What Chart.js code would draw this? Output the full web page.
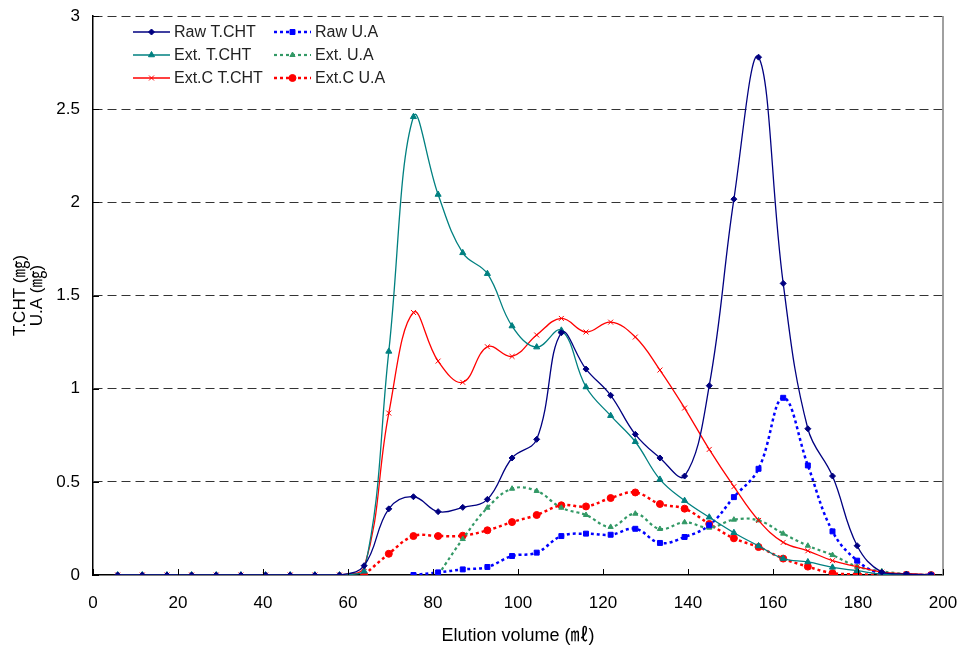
<!DOCTYPE html>
<html>
<head>
<meta charset="utf-8">
<script src="https://cdn.jsdelivr.net/npm/chart.js@4/dist/chart.umd.min.js"></script>
<style>
  html, body { margin: 0; padding: 0; background: #fff; }
  #wrap { width: 962px; height: 647px; }
</style>
</head>
<body>
<div id="wrap"><canvas id="c" width="962" height="647"></canvas></div>
<script>
// Fraction elution volumes (ml)
const volumes = [5.8, 11.6, 17.4, 23.2, 29.0, 34.8, 40.6, 46.4, 52.2, 58.0,
  63.8, 69.6, 75.4, 81.2, 87.0, 92.8, 98.6, 104.4, 110.2, 116.0,
  121.8, 127.6, 133.4, 139.2, 145.0, 150.8, 156.6, 162.4, 168.2, 174.0,
  179.8, 185.6, 191.4, 197.2];

// Total carbohydrate (mg) per fraction
const rawTCHT = [0, 0, 0, 0, 0, 0, 0, 0, 0, 0,
  0.05, 0.355, 0.42, 0.34, 0.363, 0.406, 0.628, 0.728, 1.30, 1.105,
  0.964, 0.755, 0.628, 0.531, 1.016, 2.017, 2.779, 1.565, 0.785, 0.531,
  0.157, 0.015, 0.005, 0];
const extTCHT = [0, 0, 0, 0, 0, 0, 0, 0, 0, 0,
  0.02, 1.20, 2.459, 2.042, 1.729, 1.617, 1.336, 1.223, 1.313, 1.009,
  0.855, 0.715, 0.513, 0.399, 0.31, 0.227, 0.156, 0.088, 0.07, 0.041,
  0.023, 0.005, 0.002, 0];
const extCTCHT = [0, 0, 0, 0, 0, 0, 0, 0, 0, 0,
  0.04, 0.869, 1.409, 1.148, 1.034, 1.225, 1.173, 1.288, 1.377, 1.304,
  1.357, 1.277, 1.10, 0.896, 0.674, 0.474, 0.293, 0.175, 0.13, 0.077,
  0.045, 0.015, 0.007, 0.002];

// Uronic acid (mg) per fraction
const rawUA = [null, null, null, null, null, null, null, null, null, null,
  null, null, 0, 0.014, 0.03, 0.043, 0.102, 0.12, 0.209, 0.222,
  0.216, 0.248, 0.172, 0.204, 0.267, 0.418, 0.57, 0.951, 0.588, 0.234,
  0.077, 0.005, 0, 0];
const extUA = [null, null, null, null, null, null, null, null, null, null,
  null, null, null, 0, 0.193, 0.361, 0.463, 0.451, 0.361, 0.322,
  0.258, 0.329, 0.247, 0.283, 0.254, 0.297, 0.293, 0.222, 0.157, 0.107,
  0.045, 0.02, 0.005, 0];
const extCUA = [null, null, null, null, null, null, null, null, null, null,
  0, 0.114, 0.209, 0.209, 0.211, 0.24, 0.284, 0.322, 0.374, 0.368,
  0.413, 0.443, 0.381, 0.356, 0.274, 0.197, 0.15, 0.088, 0.045, 0.01,
  0.004, 0, 0, 0];

const xTicks = [0, 20, 40, 60, 80, 100, 120, 140, 160, 180, 200];
const yTicks = [0, 0.5, 1, 1.5, 2, 2.5, 3];

const FONT = '"Liberation Sans", Arial, "Noto Sans CJK KR", sans-serif';

function pts(values) {
  return volumes.map((v, i) => ({ x: v, y: values[i] }));
}

function series(label, values, color, style, radius, dotted, width) {
  return {
    label: label,
    data: pts(values),
    borderColor: color,
    backgroundColor: color,
    pointBackgroundColor: color,
    pointBorderColor: color,
    pointStyle: style,
    pointRadius: radius,
    pointBorderWidth: 1,
    borderWidth: width,
    borderDash: dotted ? [3, 3] : [],
    tension: 0.4,
    spanGaps: false,
    fill: false
  };
}

const datasets = [
  series('Raw T.CHT', rawTCHT, '#000080', 'rectRot', 3, false, 1.3),
  series('Ext. T.CHT', extTCHT, '#008080', 'triangle', 3.5, false, 1.3),
  series('Ext.C T.CHT', extCTCHT, '#ff0000', 'crossRot', 3.5, false, 1.3),
  series('Raw U.A', rawUA, '#0000ff', 'rect', 3.5, true, 2.5),
  series('Ext. U.A', extUA, '#339966', 'triangle', 3, true, 2.2),
  series('Ext.C U.A', extCUA, '#ff0000', 'circle', 3.5, true, 2.5)
];

// Frame, inward tick marks and the two-column legend
const framePlugin = {
  id: 'frame',
  afterDraw(chart) {
    const ctx = chart.ctx;
    const a = chart.chartArea;
    const xs = chart.scales.x, ys = chart.scales.y;
    ctx.save();
    // right border
    ctx.strokeStyle = '#808080';
    ctx.lineWidth = 1.5;
    ctx.beginPath();
    ctx.moveTo(a.right, a.top);
    ctx.lineTo(a.right, a.bottom);
    ctx.stroke();
    // inward ticks
    ctx.strokeStyle = '#000';
    ctx.lineWidth = 1;
    xs.ticks.forEach(t => {
      const px = Math.round(xs.getPixelForValue(t.value)) + 0.5;
      ctx.beginPath();
      ctx.moveTo(px, a.bottom);
      ctx.lineTo(px, a.bottom - 6);
      ctx.stroke();
    });
    ys.ticks.forEach(t => {
      const py = Math.round(ys.getPixelForValue(t.value)) + 0.5;
      ctx.beginPath();
      ctx.moveTo(a.left, py);
      ctx.lineTo(a.left + 6, py);
      ctx.stroke();
    });
    // legend
    const colX = [133, 274];
    const rowY = [32, 55, 78];
    ctx.font = '16px "Liberation Sans Narrow", "Liberation Sans", Arial, sans-serif';
    ctx.textBaseline = 'middle';
    ctx.textAlign = 'left';
    chart.data.datasets.forEach((ds, i) => {
      const x0 = colX[Math.floor(i / 3)];
      const y0 = rowY[i % 3];
      ctx.strokeStyle = ds.borderColor;
      ctx.lineWidth = ds.borderWidth;
      ctx.setLineDash(ds.borderDash);
      ctx.beginPath();
      ctx.moveTo(x0, y0);
      ctx.lineTo(x0 + 37, y0);
      ctx.stroke();
      ctx.setLineDash([]);
      ctx.fillStyle = ds.pointBackgroundColor;
      ctx.lineWidth = 1;
      if (Chart.helpers && Chart.helpers.drawPoint) {
        Chart.helpers.drawPoint(ctx, {
          pointStyle: ds.pointStyle, radius: ds.pointRadius, rotation: 0,
          borderWidth: 1
        }, x0 + 18.5, y0);
      }
      ctx.fillStyle = '#222';
      ctx.fillText(ds.label, x0 + 41, y0 + 1);
    });
    ctx.restore();
  }
};

new Chart(document.getElementById('c'), {
  type: 'line',
  data: { datasets: datasets },
  plugins: [framePlugin],
  options: {
    responsive: false,
    animation: false,
    layout: { padding: { top: 16, right: 19, left: 0, bottom: 0 } },
    plugins: {
      legend: { display: false },
      tooltip: { enabled: false }
    },
    scales: {
      x: {
        type: 'linear',
        min: 0,
        max: 200,
        afterBuildTicks(scale) { scale.ticks = xTicks.map(v => ({ value: v })); },
        afterFit(scale) {
          scale.height = 72;
          scale.paddingLeft = 0;
          scale.paddingRight = 0;
        },
        grid: { display: false, drawTicks: false },
        border: { display: true, color: '#000', width: 1.5 },
        ticks: { color: '#000', font: { family: FONT, size: 17 }, padding: 18, maxRotation: 0 },
        title: {
          display: true,
          text: 'Elution volume (㎖)',
          color: '#000',
          font: { family: FONT, size: 18 },
          padding: { top: 4, bottom: 0 }
        }
      },
      y: {
        min: 0,
        max: 3,
        afterBuildTicks(scale) { scale.ticks = yTicks.map(v => ({ value: v })); },
        afterFit(scale) {
          scale.width = 93;
          scale.paddingTop = 0;
          scale.paddingBottom = 0;
        },
        grid: {
          drawTicks: false,
          color: ctx => (ctx.tick && ctx.tick.value === 0) ? 'rgba(0,0,0,0)' : '#333',
          lineWidth: 1
        },
        border: { display: true, color: '#000', width: 1.5, dash: [9, 5] },
        ticks: {
          color: '#000',
          font: { family: FONT, size: 17 },
          padding: 13,
          callback: v => String(v)
        },
        title: {
          display: true,
          text: ['T.CHT (㎎)', 'U.A (㎎)'],
          color: '#000',
          font: { family: FONT, size: 17, lineHeight: 1.05 },
          padding: { top: 11, bottom: 0 }
        }
      }
    }
  }
});
</script>
</body>
</html>
